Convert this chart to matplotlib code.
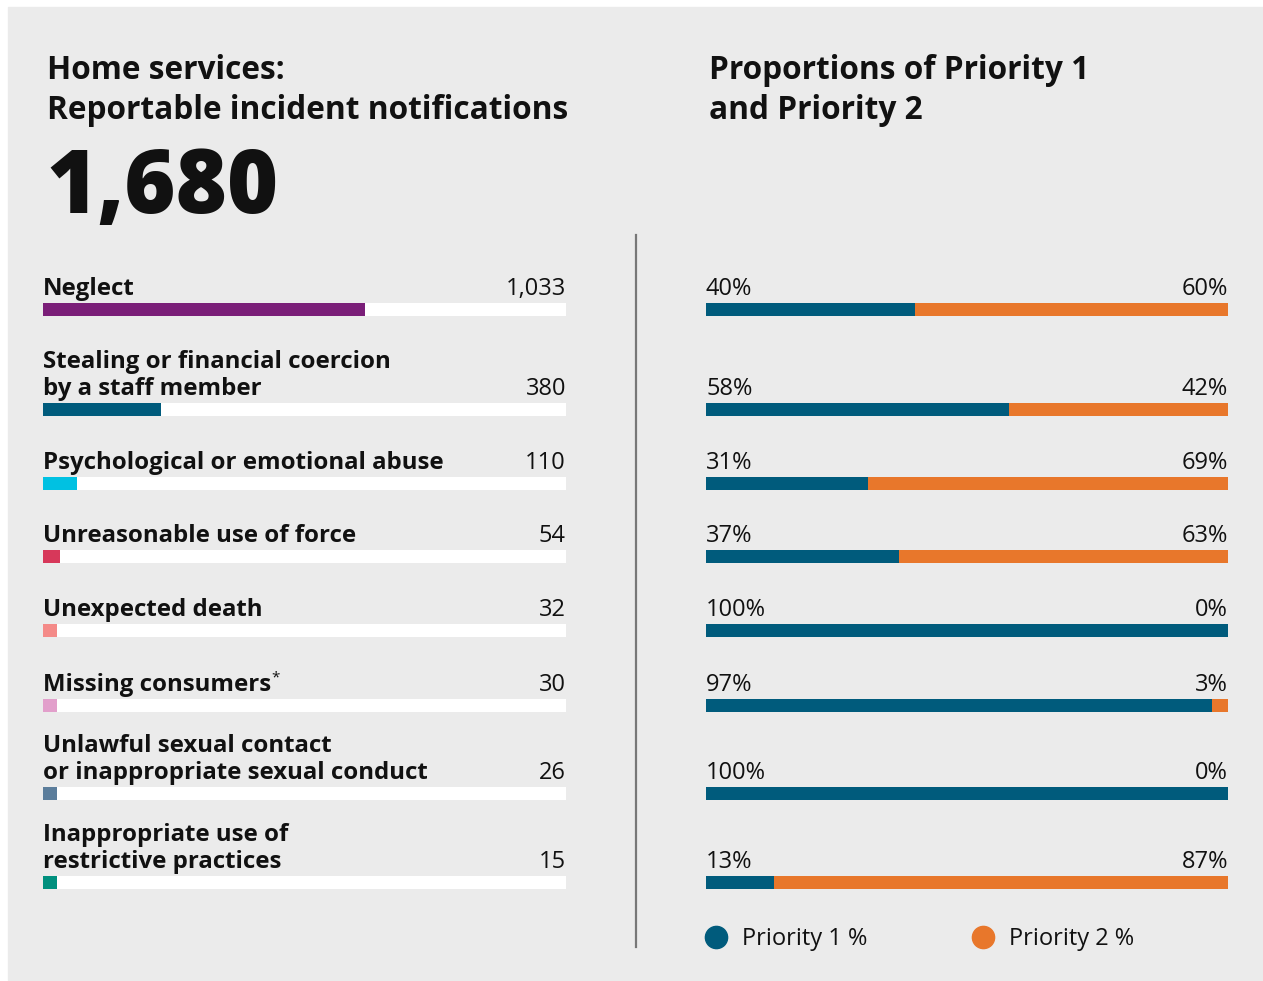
import matplotlib.pyplot as plt
from matplotlib.lines import Line2D

W, H = 1263, 981
TOTAL = 1680

categories = [
    "Neglect",
    "Stealing or financial coercion\nby a staff member",
    "Psychological or emotional abuse",
    "Unreasonable use of force",
    "Unexpected death",
    "Missing consumers",
    "Unlawful sexual contact\nor inappropriate sexual conduct",
    "Inappropriate use of\nrestrictive practices",
]
counts = [1033, 380, 110, 54, 32, 30, 26, 15]
priority1 = [40, 58, 31, 37, 100, 97, 100, 13]
priority2 = [60, 42, 69, 63, 0, 3, 0, 87]
footnoted = "Missing consumers"

cat_colors = ["#7A1E78", "#005B7C", "#00C1E2", "#D7385A",
              "#F48A88", "#E29FCB", "#5B7D9B", "#00907E"]
P1_COLOR = "#005B7C"
P2_COLOR = "#E8772B"
BG = "#EBEBEB"
INK = "#111111"

# vertical centre of each bar row, in pixels from the top
row_y = [309.5, 409.5, 483.5, 556.5, 630.5, 705.5, 793.5, 882.5]
BAR_H = 13
MIN_BAR = 45  # tiny counts still get a visible stub

plt.rcParams["font.family"] = ["Open Sans", "DejaVu Sans"]

fig = plt.figure(figsize=(W / 100, H / 100), dpi=100, facecolor="white")

# background panel, titles, divider
bg = fig.add_axes([0, 0, 1, 1])
bg.set_xlim(0, W)
bg.set_ylim(H, 0)
bg.axis("off")
bg.add_patch(plt.Rectangle((8, 7), W - 8, 973, color=BG, zorder=0))
# multi-line text is anchored on the baseline of its last line
bg.text(47, 119, "Home services:\nReportable incident notifications",
        fontsize=22.8, fontweight="bold", color=INK, va="baseline",
        linespacing=1.27)
bg.text(46, 213, f"{TOTAL:,}", fontsize=63, fontweight=800, color=INK,
        va="baseline")
bg.text(709, 119, "Proportions of Priority 1\nand Priority 2",
        fontsize=22.8, fontweight="bold", color=INK, va="baseline",
        linespacing=1.27)
bg.plot([636, 636], [235, 947], color="#777777", lw=1.6)

# left panel: counts by category
left = fig.add_axes([43 / W, 0, (566 - 43) / W, 1], facecolor="none")
left.set_xlim(0, TOTAL)
left.set_ylim(H, 0)
left.axis("off")
left.barh(row_y, [TOTAL] * len(row_y), height=BAR_H, color="white")
left.barh(row_y, [max(c, MIN_BAR) for c in counts], height=BAR_H,
          color=cat_colors)
for y, name, count in zip(row_y, categories, counts):
    base = y - BAR_H / 2 - 8
    label = left.text(0, base, name, fontsize=17.25, fontweight="bold",
                      color=INK, va="baseline", linespacing=1.18)
    left.text(TOTAL, base, f"{count:,}", fontsize=17, color=INK,
              ha="right", va="baseline")
    if name == footnoted:
        left.annotate("*", xy=(1, 1), xycoords=label, xytext=(0, 2),
                      textcoords="offset points", fontsize=11,
                      color=INK, ha="left", va="top")

# right panel: priority split
right = fig.add_axes([706 / W, 0, (1228 - 706) / W, 1], facecolor="none")
right.set_xlim(0, 100)
right.set_ylim(H, 0)
right.axis("off")
right.barh(row_y, priority1, height=BAR_H, color=P1_COLOR)
right.barh(row_y, priority2, left=priority1, height=BAR_H, color=P2_COLOR)
for y, p1, p2 in zip(row_y, priority1, priority2):
    base = y - BAR_H / 2 - 8
    right.text(0, base, f"{p1}%", fontsize=17, color=INK, va="baseline")
    right.text(100, base, f"{p2}%", fontsize=17, color=INK,
               ha="right", va="baseline")

handles = [
    Line2D([], [], marker="o", ls="", markersize=16, color=P1_COLOR),
    Line2D([], [], marker="o", ls="", markersize=16, color=P2_COLOR),
]
bg.legend(handles, ["Priority 1 %", "Priority 2 %"], ncol=2,
          loc="center left", bbox_to_anchor=(704, 939),
          bbox_transform=bg.transData, frameon=False, fontsize=17,
          handlelength=1.0, handletextpad=0.6, columnspacing=4.4,
          borderpad=0, borderaxespad=0, labelcolor=INK)

fig.savefig("out.png", dpi=100, facecolor="white")
